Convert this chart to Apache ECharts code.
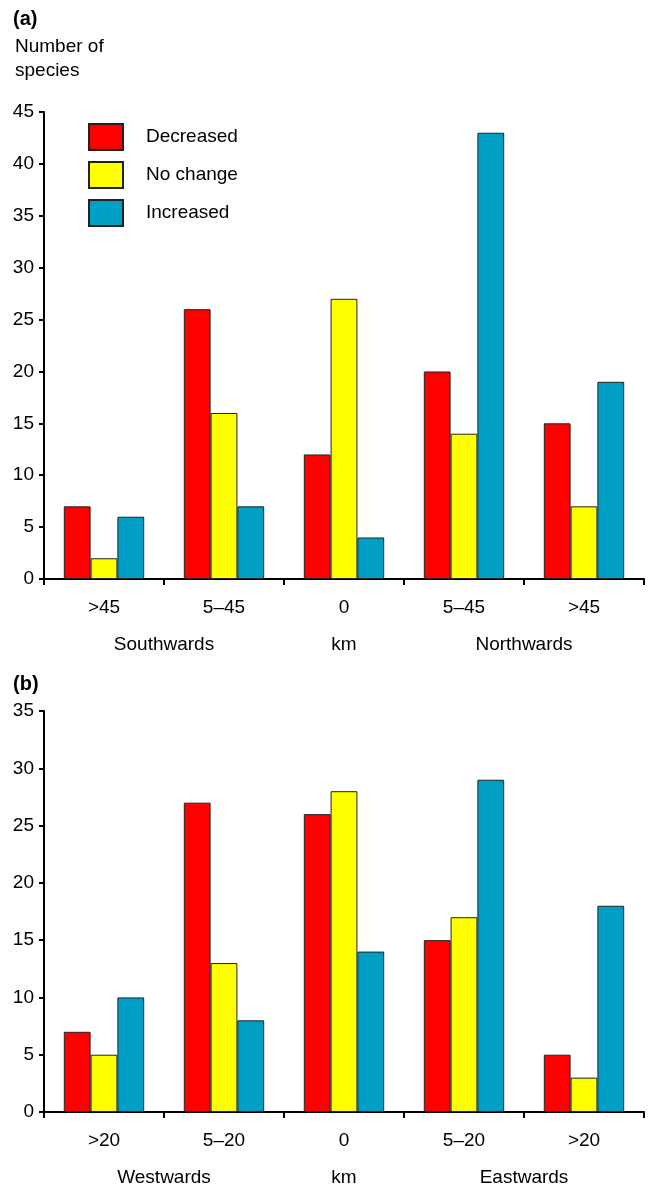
<!DOCTYPE html>
<html><head><meta charset="utf-8">
<script src="https://cdn.jsdelivr.net/npm/echarts@6/dist/echarts.min.js"></script>
<style>html,body{margin:0;padding:0;background:#fff}#c{width:651px;height:1187px}</style>
</head><body><div id="c"></div>
<script>
const seriesNames = ['Decreased', 'No change', 'Increased'];
const colors = ['#ff0000', '#ffff00', '#00a0c6'];

const catsA = ['>45', '5–45', '0', '5–45', '>45'];
const decA = [7, 26, 12, 20, 15];
const noA = [2, 16, 27, 14, 7];
const incA = [6, 7, 4, 43, 19];
const dirA = { 1: 'Southwards', 2.5: 'km', 4: 'Northwards' };
const yTicksA = { min: 0, max: 45, interval: 5 };

const catsB = ['>20', '5–20', '0', '5–20', '>20'];
const decB = [7, 27, 26, 15, 5];
const noB = [5, 13, 28, 17, 3];
const incB = [10, 8, 14, 29, 18];
const dirB = { 1: 'Westwards', 2.5: 'km', 4: 'Eastwards' };
const yTicksB = { min: 0, max: 35, interval: 5 };

const font = 'Liberation Sans, Arial, sans-serif';
const fs = 19;
const axisLineStyle = { color: '#000', width: 2 };

function catAxis(grid, cats) {
  return {
    type: 'category', gridIndex: grid, data: cats,
    axisLine: { lineStyle: axisLineStyle },
    axisTick: { show: true, length: 6, lineStyle: { color: '#000', width: 2 } },
    axisLabel: { color: '#000', fontSize: fs, fontFamily: font, margin: 19 }
  };
}
function dirAxis(grid, dir) {
  return {
    type: 'value', gridIndex: grid, min: 0, max: 5, interval: 0.5, position: 'bottom', offset: 48,
    axisLine: { show: false }, axisTick: { show: false }, splitLine: { show: false },
    axisLabel: { color: '#000', fontSize: fs, fontFamily: font, showMinLabel: true, showMaxLabel: true,
      formatter: v => dir[v] || '' }
  };
}
function valAxis(grid, t) {
  return {
    type: 'value', gridIndex: grid, min: t.min, max: t.max, interval: t.interval,
    axisLine: { show: true, lineStyle: axisLineStyle },
    axisTick: { show: true, length: 5, lineStyle: { color: '#000', width: 2 } },
    splitLine: { show: false },
    axisLabel: { color: '#000', fontSize: fs, fontFamily: font, margin: 10 }
  };
}
function bars(xi, yi, arrs) {
  return arrs.map((d, i) => ({
    name: seriesNames[i], type: 'bar', xAxisIndex: xi, yAxisIndex: yi, data: d,
    barGap: '0%', barCategoryGap: '33%',
    itemStyle: { color: colors[i], borderColor: '#222', borderWidth: 1 },
    silent: true
  }));
}

const chart = echarts.init(document.getElementById('c'), null, { renderer: 'canvas' });
chart.setOption({
  animation: false,
  backgroundColor: '#fff',
  textStyle: { fontFamily: font },
  title: [
    { text: '(a)', left: 13, top: 9, padding: 0, textStyle: { fontSize: 20, fontWeight: 'bold', color: '#000', fontFamily: font } },
    { text: 'Number of\nspecies', left: 15, top: 35, padding: 0, textStyle: { fontSize: 19, fontWeight: 'normal', color: '#000', fontFamily: font, lineHeight: 24 } },
    { text: '(b)', left: 13, top: 674, padding: 0, textStyle: { fontSize: 20, fontWeight: 'bold', color: '#000', fontFamily: font } }
  ],
  legend: {
    orient: 'vertical', left: 88, top: 123, padding: 0, itemWidth: 34, itemHeight: 26, itemGap: 10,
    data: seriesNames, icon: 'rect',
    textStyle: { fontSize: fs, color: '#000', fontFamily: font, padding: [0, 0, 0, 18] }
  },
  grid: [
    { left: 44, right: 7, top: 112, height: 467 },
    { left: 44, right: 7, top: 711, height: 401 }
  ],
  xAxis: [catAxis(0, catsA), dirAxis(0, dirA), catAxis(1, catsB), dirAxis(1, dirB)],
  yAxis: [valAxis(0, yTicksA), valAxis(1, yTicksB)],
  series: [].concat(bars(0, 0, [decA, noA, incA]), bars(2, 1, [decB, noB, incB]))
});
</script></body></html>
